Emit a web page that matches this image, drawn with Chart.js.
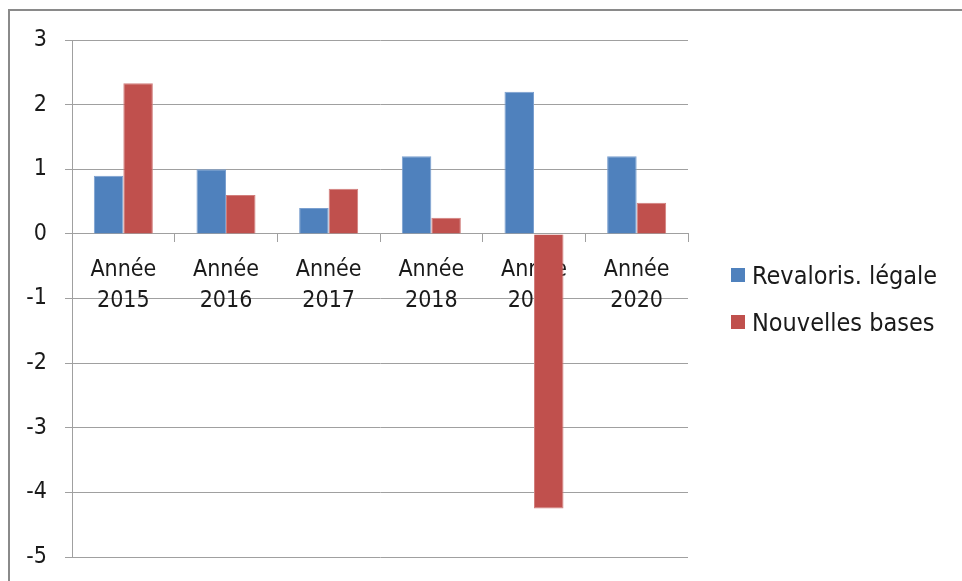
<!DOCTYPE html>
<html>
<head>
<meta charset="utf-8">
<script src="https://cdn.jsdelivr.net/npm/chart.js@4"></script>
<style>
    html, body { margin: 0; padding: 0; background: #fff; }
    #wrap { position: relative; width: 962px; height: 581px; overflow: hidden; }
    #frame {
        position: absolute; left: 8px; top: 9px; width: 1000px; height: 600px;
        border-top: 2px solid #8a8a8a; border-left: 2px solid #8a8a8a;
        pointer-events: none;
    }
    #legend {
        position: absolute; left: 731px; top: 258px;
        font-family: "DejaVu Sans Condensed", "DejaVu Sans", sans-serif;
        font-size: 25px; color: #1a1a1a;
    }
    .item { display: flex; align-items: center; height: 34px; margin-bottom: 13px; white-space: nowrap; }
    .box { width: 14px; height: 14px; margin-right: 7px; }
</style>
</head>
<body>
<div id="wrap">
    <canvas id="chart" width="962" height="581"></canvas>
    <div id="frame"></div>
    <div id="legend"></div>
</div>
<script>
// Chart data
const categories = [['Année', '2015'], ['Année', '2016'], ['Année', '2017'], ['Année', '2018'], ['Année', '2019'], ['Année', '2020']];
const seriesNames = ['Revaloris. légale', 'Nouvelles bases'];
const revalorisation = [0.9, 1.0, 0.4, 1.2, 2.2, 1.2];
const nouvellesBases = [2.33, 0.6, 0.7, 0.25, -4.25, 0.48];
const yTicks = [3, 2, 1, 0, -1, -2, -3, -4, -5];

const colors = ['#4F81BD', '#C0504D'];
const edges = ['#7a9fcf', '#d27e7c'];
const gridColor = '#a0a0a0';
const fontFamily = '"DejaVu Sans Condensed", "DejaVu Sans", sans-serif';

// Build the legend
const legend = document.getElementById('legend');
seriesNames.forEach((name, i) => {
    legend.innerHTML += `<div class="item"><span class="box" style="background:${colors[i]}"></span>${name}</div>`;
});

const ctx = document.getElementById('chart').getContext('2d');
new Chart(ctx, {
    type: 'bar',
    data: {
        labels: categories,
        datasets: [revalorisation, nouvellesBases].map((values, i) => ({
            label: seriesNames[i],
            data: values,
            backgroundColor: colors[i],
            borderColor: edges[i],
            borderWidth: 1,
            barPercentage: 1,
            categoryPercentage: 0.575
        }))
    },
    options: {
        responsive: false,
        animation: false,
        layout: {
            padding: { top: 40, right: 274, bottom: 24, left: 0 }
        },
        plugins: {
            legend: { display: false },
            tooltip: { enabled: false }
        },
        scales: {
            x: {
                position: { y: 0 },
                offset: true,
                grid: {
                    display: true,
                    drawOnChartArea: false,
                    drawTicks: true,
                    tickLength: 8,
                    color: gridColor,
                    offset: true
                },
                border: { display: true, color: gridColor },
                ticks: {
                    color: '#1a1a1a',
                    padding: 13,
                    maxRotation: 0,
                    font: { family: fontFamily, size: 23, lineHeight: 1.35 }
                }
            },
            y: {
                min: Math.min(...yTicks),
                max: Math.max(...yTicks),
                afterFit: scale => {
                    scale.width = 72;
                    scale.paddingTop = 0;
                    scale.paddingBottom = 0;
                },
                afterBuildTicks: scale => { scale.ticks = yTicks.map(v => ({ value: v })); },
                grid: {
                    color: gridColor,
                    tickLength: 7
                },
                border: { display: true, color: gridColor },
                ticks: {
                    color: '#1a1a1a',
                    padding: 18,
                    font: { family: fontFamily, size: 23 }
                }
            }
        }
    }
});
</script>
</body>
</html>
